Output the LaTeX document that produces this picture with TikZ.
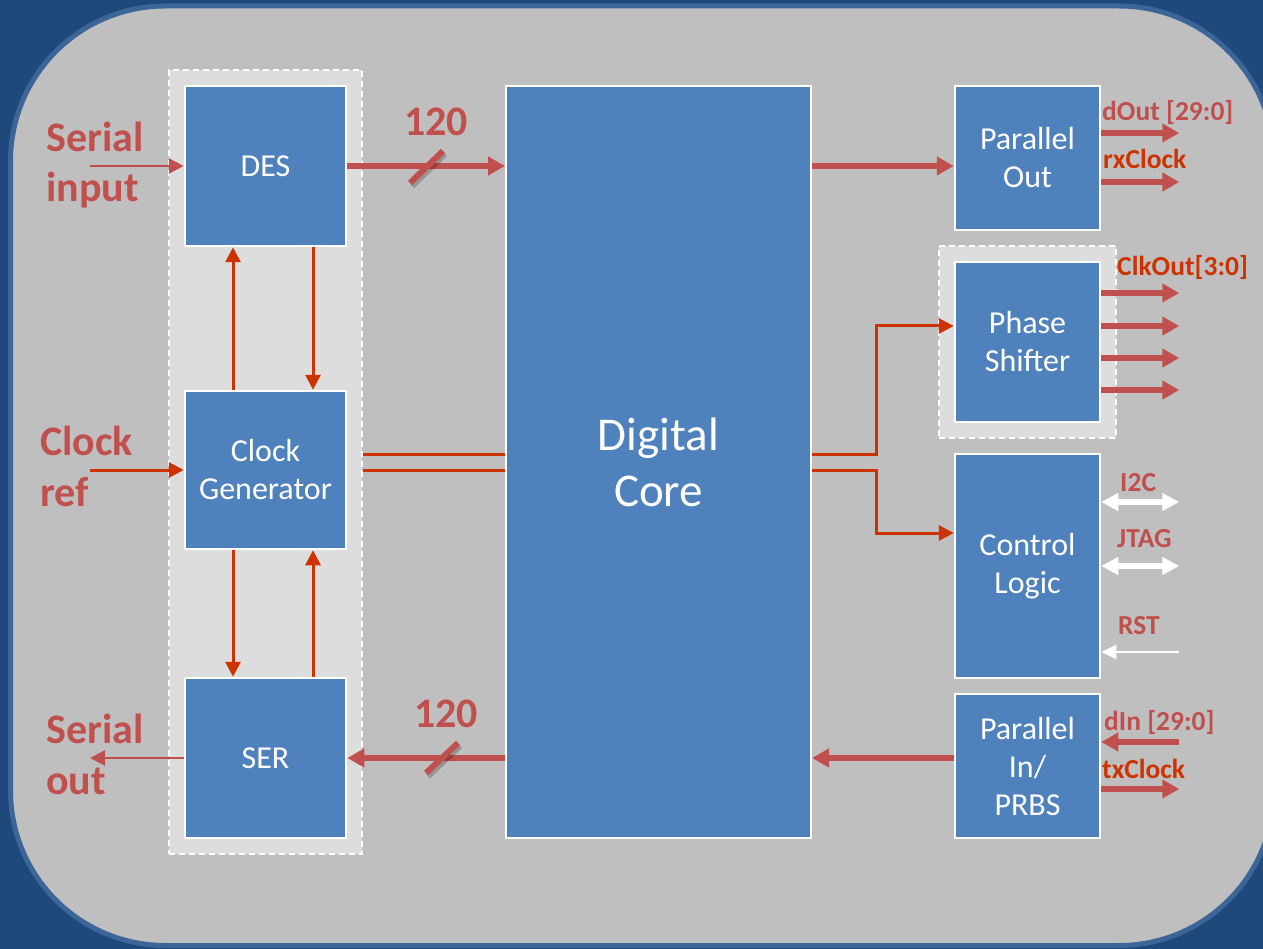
\documentclass[tikz,border=0pt]{standalone}
\usepackage{fontspec}
\setmainfont{Carlito}
\usetikzlibrary{arrows.meta}
\definecolor{bgblue}{HTML}{1F497D}
\definecolor{ringblue}{HTML}{3C6698}
\definecolor{panel}{HTML}{BFBFBF}
\definecolor{grpfill}{HTML}{DDDDDD}
\definecolor{boxblue}{HTML}{4F81BD}
\definecolor{sigred}{HTML}{C0504D}
\definecolor{sigorange}{HTML}{CC3300}
\begin{document}
\begin{tikzpicture}[x=1pt,y=-1pt,
  blk/.style={draw=white, line width=2.5pt, fill=boxblue, text=white, inner sep=0pt,
    font=\fontsize{32}{38}\selectfont, align=center},
  grpbox/.style={draw=white, dash pattern=on 6pt off 4pt, line width=1.8pt, fill=grpfill, inner sep=0pt},
  fatarrow/.style={draw=sigred, line width=6.5pt, -{Triangle[length=17pt,width=18pt]}},
  thinarrow/.style={draw=sigred, line width=2.5pt, -{Triangle[length=15pt,width=15pt]}},
  clkarrow/.style={draw=sigorange, line width=3pt, -{Triangle[length=15pt,width=15pt]}},
  clkline/.style={draw=sigorange, line width=3pt},
  whitedbl/.style={draw=white, line width=5.5pt, {Triangle[length=17pt,width=17pt]}-{Triangle[length=17pt,width=17pt]}},
  whitethin/.style={draw=white, line width=2pt, -{Triangle[length=15pt,width=14pt]}},
  slashmark/.style={draw=sigred, line width=6pt},
  slashshadow/.style={draw=black, opacity=0.22, line width=6pt},
  biglbl/.style={font=\fontsize{42}{50}\selectfont\bfseries, text=sigred, inner sep=0pt, anchor=base west},
  smlbl/.style={font=\fontsize{27.5}{32}\selectfont\bfseries, text=sigred, inner sep=0pt, anchor=base west}
]
\useasboundingbox (0,0) rectangle (1263,949);
\clip (0,0) rectangle (1263,949);
\fill[bgblue] (0,0) rectangle (1263,949);
\fill[panel, rounded corners=155pt] (10.5,6) rectangle (1274,945.5);
\draw[ringblue, line width=5pt, rounded corners=155pt] (10.5,6) rectangle (1274,945.5);

% groups
\node[grpbox, minimum width=193pt, minimum height=784pt] (grp) at (265.5,462) {};
\node[grpbox, minimum width=177pt, minimum height=192pt] (psgrp) at (1027.5,342) {};

% blocks
\node[blk, minimum width=161pt, minimum height=160pt] (des) at (265.5,166) {DES};
\node[blk, minimum width=161pt, minimum height=158pt] (clk) at (265.5,470) {Clock\\Generator};
\node[blk, minimum width=161pt, minimum height=160pt] (ser) at (265.5,758) {SER};
\node[blk, line width=2pt, minimum width=305pt, minimum height=752pt, font=\fontsize{47}{56}\selectfont] (core) at (658.5,462) {Digital\\Core};
\node[blk, minimum width=145pt, minimum height=144pt] (po) at (1027.5,158) {Parallel\\Out};
\node[blk, minimum width=145pt, minimum height=160pt] (ps) at (1027.5,342) {Phase\\Shifter};
\node[blk, minimum width=145pt, minimum height=224pt] (cl) at (1027.5,566) {Control\\Logic};
\node[blk, minimum width=145pt, minimum height=144pt] (pi) at (1027.5,766) {Parallel\\In/\\PRBS};

% left inputs / outputs
\coordinate (serin) at (90,166);
\coordinate (clkin) at (90,470);
\coordinate (serout) at (90,758);
\draw[thinarrow] (serin) -- (des.west);
\draw[clkarrow] (clkin) -- (clk.west);
\draw[thinarrow] (ser.west) -- (serout);

% clock generator links
\draw[clkarrow] ([xshift=-32.5pt]clk.north) -- ([xshift=-32.5pt]des.south);
\draw[clkarrow] ([xshift=47.5pt]des.south) -- ([xshift=47.5pt]clk.north);
\draw[clkarrow] ([xshift=-32.5pt]clk.south) -- ([xshift=-32.5pt]ser.north);
\draw[clkarrow] ([xshift=47.5pt]ser.north) -- ([xshift=47.5pt]clk.south);

% clock lines to core
\coordinate (ta) at ([yshift=16pt]clk.center);
\draw[clkline] (ta -| grp.east) -- (ta -| core.west);
\draw[clkline] (clk.center -| grp.east) -- (clk.center -| core.west);
\draw[clkarrow] (ta -| core.east) -- ++(64,0) |- ([yshift=16pt]ps.west);
\draw[clkarrow] (clk.center -| core.east) -- ++(64,0) |- ([yshift=33pt]cl.west);

% data paths
\draw[fatarrow] (des.east) -- (des.east -| core.west);
\draw[fatarrow] (des.east -| core.east) -- (des.east -| po.west);
\draw[fatarrow] (ser.east -| core.west) -- (ser.east);
\draw[fatarrow] (ser.east -| pi.west) -- (ser.east -| core.east);

% bus slashes
\draw[slashshadow] (412,186) -- (445,154);
\draw[slashmark] (410,183) -- (443,151);
\draw[slashshadow] (428,776) -- (460,746);
\draw[slashmark] (426,773) -- (458,743);

% parallel out
\draw[fatarrow] ([yshift=25pt]po.east) -- ++(78,0);
\draw[fatarrow] ([yshift=-24pt]po.east) -- ++(78,0);

% phase shifter
\draw[fatarrow] ([yshift=49pt]ps.east) -- ++(78,0);
\draw[fatarrow] ([yshift=16pt]ps.east) -- ++(78,0);
\draw[fatarrow] ([yshift=-16pt]ps.east) -- ++(78,0);
\draw[fatarrow] ([yshift=-48pt]ps.east) -- ++(78,0);

% control logic
\draw[whitedbl] ([yshift=64pt]cl.east) -- ++(78,0);
\draw[whitedbl] (cl.east) -- ++(78,0);
\coordinate (rst) at ([xshift=78pt,yshift=-86pt]cl.east);
\draw[whitethin] (rst) -- (rst -| cl.east);

% parallel in
\coordinate (din) at ([xshift=78pt,yshift=24pt]pi.east);
\draw[fatarrow] (din) -- (din -| pi.east);
\draw[fatarrow] ([yshift=-23pt]pi.east) -- ++(78,0);

% labels
\node[biglbl] (lsa) at (46,152) {Serial};
\node[biglbl] (lsb) at (46,202) {input};
\node[biglbl] (lca) at (40,455) {Clock};
\node[biglbl] (lcb) at (40,506) {ref};
\node[biglbl] (loa) at (46,743) {Serial};
\node[biglbl] (lob) at (46,794) {out};
\node[biglbl] (n1) at (404,136) {120};
\node[biglbl] (n2) at (414,727) {120};
\node[smlbl] (ldout) at (1102,121) {dOut [29:0]};
\node[smlbl, text=sigorange] (lrx) at (1103,169) {rxClock};
\node[smlbl, text=sigorange] (lclk) at (1117,276) {ClkOut[3:0]};
\node[smlbl] (li2c) at (1120,491) {I2C};
\node[smlbl] (ljtag) at (1117,547) {JTAG};
\node[smlbl] (lrst) at (1118,634) {RST};
\node[smlbl] (ldin) at (1104,730) {dIn [29:0]};
\node[smlbl, text=sigorange] (ltx) at (1102,778) {txClock};
\end{tikzpicture}
\end{document}
